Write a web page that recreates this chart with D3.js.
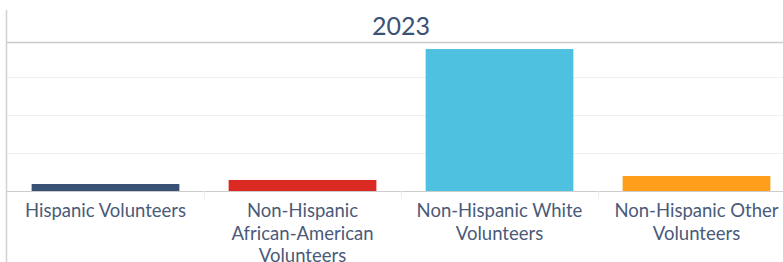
<!DOCTYPE html>
<html>
<head>
<meta charset="utf-8">
<script src="https://cdn.jsdelivr.net/npm/d3@7"></script>
<style>
  body { margin: 0; background: #fff; }
  text { font-family: Lato, "Open Sans", sans-serif; }
</style>
</head>
<body>
<div id="chart"></div>
<script>
// data
var categories = ["Hispanic Volunteers", "Non-Hispanic African-American Volunteers",
                  "Non-Hispanic White Volunteers", "Non-Hispanic Other Volunteers"];
var labelLines = [["Hispanic Volunteers"],
                  ["Non-Hispanic", "African-American", "Volunteers"],
                  ["Non-Hispanic White", "Volunteers"],
                  ["Non-Hispanic Other", "Volunteers"]];
var values = [92, 145, 1868, 197];
var colors = ["#3a5275", "#da2a22", "#4fc1e0", "#ff9e1b"];
var gridTicks = [500, 1000, 1500];
var title = "2023";

var W = 783, H = 262;
var left = 7, right = 795, baseY = 191, topY = 39;

var svg = d3.select("#chart").append("svg")
    .attr("width", W)
    .attr("height", H);

var x = d3.scaleBand()
    .domain(categories)
    .range([left, right])
    .paddingInner(0.25)
    .paddingOuter(0.125);
var y = d3.scaleLinear()
    .domain([0, 2000])
    .range([baseY, topY]);

// gridlines
svg.append("g")
    .selectAll("line")
    .data(gridTicks)
  .enter().append("line")
    .attr("x1", left).attr("x2", W)
    .attr("y1", function(d) { return Math.round(y(d)) + 0.5; })
    .attr("y2", function(d) { return Math.round(y(d)) + 0.5; })
    .attr("stroke", "#efefef")
    .attr("stroke-width", 1);

// header line
svg.append("line")
    .attr("x1", left).attr("x2", W)
    .attr("y1", 42.5).attr("y2", 42.5)
    .attr("stroke", "#cccccc")
    .attr("stroke-width", 1.5);

// title
svg.append("text")
    .attr("x", (left + right) / 2)
    .attr("y", 35)
    .attr("text-anchor", "middle")
    .attr("font-size", 25)
    .attr("fill", "#3a5275")
    .text(title);

// bars
svg.selectAll(".bar")
    .data(values)
  .enter().append("rect")
    .attr("class", "bar")
    .attr("x", function(d, i) { return x(categories[i]); })
    .attr("width", x.bandwidth())
    .attr("y", function(d) { return y(d); })
    .attr("height", function(d) { return baseY - y(d); })
    .attr("fill", function(d, i) { return colors[i]; });

// baseline
svg.append("line")
    .attr("x1", left).attr("x2", W)
    .attr("y1", baseY + 0.5).attr("y2", baseY + 0.5)
    .attr("stroke", "#cccccc");

// band separators
var step = x.step();
svg.append("g")
    .selectAll("line")
    .data(categories.slice(1))
  .enter().append("line")
    .attr("x1", function(d) { return Math.round(x(d) - step * 0.125) + 0.5; })
    .attr("x2", function(d) { return Math.round(x(d) - step * 0.125) + 0.5; })
    .attr("y1", baseY).attr("y2", baseY + 8)
    .attr("stroke", "#eeeeee");

// left axis line
svg.append("line")
    .attr("x1", 6.5).attr("x2", 6.5)
    .attr("y1", 10).attr("y2", H)
    .attr("stroke", "#d0d0d0")
    .attr("stroke-width", 1.5);

// category labels
var lbl = svg.append("g")
    .selectAll("text")
    .data(categories)
  .enter().append("text")
    .attr("text-anchor", "middle")
    .attr("font-size", 18.5)
    .attr("fill", "#4a5a78")
    .attr("x", function(d) { return x(d) + x.bandwidth() / 2; })
    .attr("y", 217);
lbl.each(function(d, i) {
  var t = d3.select(this);
  labelLines[i].forEach(function(line, j) {
    t.append("tspan")
      .attr("x", x(d) + x.bandwidth() / 2)
      .attr("dy", j === 0 ? 0 : 22.5)
      .text(line);
  });
});
</script>
</body>
</html>
